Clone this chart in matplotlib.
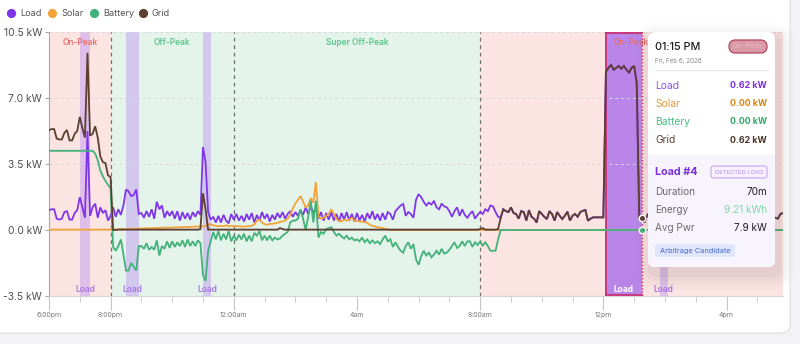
import numpy as np
import matplotlib
matplotlib.use("Agg")
import matplotlib.pyplot as plt
from matplotlib.patches import FancyBboxPatch, Rectangle
from matplotlib.lines import Line2D

plt.rcParams['font.family'] = ['Inter', 'DejaVu Sans']

# ---------------------------------------------------------------------------
# 5-minute power readings (kW), starting at 6:00pm, one row per hour
# ---------------------------------------------------------------------------
STEP_MIN = 5

load_kw = [
    1.05, 1.1, 1.1, 0.6, 0.55, 0.6, 0.95, 1.0, 0.55, 0.55, 0.9, 1.05,
    1.75, 1.2, 0.65, 5.25, 0.75, 1.2, 1.4, 0.65, 1.2, 0.9, 1.05, 0.5,
    0.75, 1.2, 0.7, 1.1, 0.8, 1.3, 2.15, 2.05, 1.8, 1.85, 2.15, 0.85,
    0.9, 0.65, 1.0, 0.7, 1.1, 0.6, 1.5, 1.1, 1.3, 0.65, 1.0, 0.75,
    1.0, 0.6, 1.0, 0.5, 0.95, 0.6, 0.9, 0.55, 0.95, 0.7, 1.0, 0.8,
    4.4, 3.6, 0.95, 0.55, 0.7, 0.4, 0.75, 0.4, 0.8, 0.5, 0.35, 0.85,
    0.55, 0.85, 0.5, 0.75, 0.45, 0.85, 0.55, 0.9, 0.4, 0.8, 0.5, 0.95,
    0.6, 0.85, 0.45, 0.8, 0.55, 0.9, 0.65, 0.95, 0.6, 0.85, 1.0, 0.7,
    0.95, 0.75, 1.05, 0.8, 1.2, 0.85, 1.25, 0.9, 1.2, 0.6, 0.95, 0.5,
    0.9, 0.55, 0.95, 0.5, 0.85, 0.45, 0.9, 0.55, 0.95, 0.5, 0.85, 0.45,
    0.9, 0.5, 0.8, 0.45, 0.9, 0.6, 1.0, 0.55, 0.85, 0.5, 0.9, 0.55,
    0.95, 0.85, 0.55, 1.0, 1.15, 1.3, 1.38, 0.75, 0.95, 0.85, 0.65, 1.6,
    1.9, 1.75, 1.5, 1.3, 1.45, 1.35, 1.55, 1.2, 1.1, 1.4, 1.25, 1.2,
    1.0, 0.7, 1.0, 1.2, 0.75, 1.1, 0.8, 0.65, 0.85, 1.0, 0.6, 0.8,
    0.95, 0.85, 1.1, 1.0, 1.3, 1.25, 0.95, 0.7, 0.65, 1.1, 1.0, 0.95,
    1.2, 0.9, 0.85, 0.6, 1.0, 0.95, 0.5, 1.05, 0.7, 0.6, 0.4, 1.0,
    0.85, 0.7, 0.58, 1.0, 0.85, 0.5, 0.95, 0.75, 0.58, 0.76, 0.97, 0.5,
    0.76, 0.85, 0.7, 0.95, 1.02, 1.06, 0.49, 0.6, 0.67, 0.67, 0.67, 0.67,
    0.67, 8.4, 8.6, 8.75, 8.5, 8.6, 8.7, 8.55, 8.7, 8.5, 8.35, 8.6,
    8.7, 7.8, 0.65, 0.62, 0.4, 0.75, 0.95, 0.6, 0.85, 0.5, 0.9, 0.7,
    1.0, 0.55, 0.8, 0.95, 0.6, 0.85, 0.45, 0.9, 0.7, 1.05, 0.6, 0.8,
    0.95, 0.5, 0.85, 0.7, 1.0, 0.55, 0.9, 0.65, 0.8, 1.0, 0.5, 0.85,
    0.7, 0.95, 0.6, 0.9, 0.55, 1.0, 0.75, 0.85, 0.5, 0.9, 0.65, 0.95,
    0.6, 0.85, 0.7, 1.0, 0.55, 0.9, 0.7, 0.65, 0.6, 0.85, 0.9,
]

solar_kw = [
    0.02, 0.02, 0.02, 0.02, 0.02, 0.02, 0.02, 0.02, 0.02, 0.02, 0.02, 0.02,
    0.02, 0.02, 0.02, 0.02, 0.02, 0.02, 0.02, 0.02, 0.02, 0.02, 0.02, 0.02,
    0.03, 0.03, 0.04, 0.04, 0.05, 0.04, 0.05, 0.06, 0.06, 0.07, 0.06, 0.07,
    0.08, 0.08, 0.09, 0.1, 0.09, 0.1, 0.11, 0.11, 0.12, 0.12, 0.13, 0.12,
    0.13, 0.14, 0.14, 0.15, 0.15, 0.16, 0.16, 0.17, 0.17, 0.18, 0.18, 0.19,
    0.19, 0.2, 0.3, 0.3, 0.25, 0.22, 0.2, 0.22, 0.2, 0.25, 0.2, 0.22,
    0.2, 0.2, 0.2, 0.18, 0.18, 0.2, 0.2, 0.22, 0.3, 0.5, 0.55, 0.4,
    0.3, 0.28, 0.32, 0.33, 0.35, 0.38, 0.42, 0.46, 0.5, 0.6, 0.8, 1.15,
    1.4, 1.6, 1.8, 1.5, 1.2, 1.3, 1.7, 1.45, 2.55, 0.7, 0.6, 0.65,
    0.75, 0.85, 1.1, 0.85, 0.6, 0.48, 0.46, 0.55, 0.5, 0.55, 0.65, 0.5,
    0.48, 0.46, 0.44, 0.42, 0.38, 0.28, 0.22, 0.18, 0.15, 0.12, 0.1, 0.06,
    0.03, 0.0, 0.0, 0.0, 0.0, 0.0, 0.0, 0.0, 0.0, 0.0, 0.0, 0.0,
    0.0, 0.0, 0.0, 0.0, 0.0, 0.0, 0.0, 0.0, 0.0, 0.0, 0.0, 0.0,
    0.0, 0.0, 0.0, 0.0, 0.0, 0.0, 0.0, 0.0, 0.0, 0.0, 0.0, 0.0,
    0.0, 0.0, 0.0, 0.0, 0.0, 0.0, 0.0, 0.0, 0.0, 0.0, 0.0, 0.0,
    0.0, 0.0, 0.0, 0.0, 0.0, 0.0, 0.0, 0.0, 0.0, 0.0, 0.0, 0.0,
    0.0, 0.0, 0.0, 0.0, 0.0, 0.0, 0.0, 0.0, 0.0, 0.0, 0.0, 0.0,
    0.0, 0.0, 0.0, 0.0, 0.0, 0.0, 0.0, 0.0, 0.0, 0.0, 0.0, 0.0,
    0.0, 0.0, 0.0, 0.0, 0.0, 0.0, 0.0, 0.0, 0.0, 0.0, 0.0, 0.0,
    0.0, 0.0, 0.0, 0.0, 0.0, 0.0, 0.0, 0.0, 0.0, 0.0, 0.0, 0.0,
    0.0, 0.0, 0.0, 0.0, 0.0, 0.0, 0.0, 0.0, 0.0, 0.0, 0.0, 0.0,
    0.0, 0.0, 0.0, 0.0, 0.0, 0.0, 0.0, 0.0, 0.0, 0.0, 0.0, 0.0,
    0.0, 0.0, 0.0, 0.0, 0.0, 0.0, 0.0, 0.0, 0.0, 0.0, 0.0, 0.0,
    0.0, 0.0, 0.0, 0.0, 0.0, 0.0, 0.0, 0.0, 0.0, 0.0, 0.0,
]

battery_kw = [
    4.2, 4.2, 4.2, 4.2, 4.2, 4.2, 4.2, 4.2, 4.2, 4.2, 4.2, 4.2,
    4.2, 4.2, 4.2, 4.2, 4.2, 4.2, 4.05, 3.7, 3.15, 2.85, 2.6, 2.4,
    2.2, -0.9, -1.1, -0.85, -0.5, -1.3, -2.15, -2.15, -1.75, -1.95, -2.15, -0.85,
    -0.85, -1.0, -0.7, -1.05, -0.9, -1.05, -0.55, -1.35, -0.85, -1.0, -0.6, -0.95,
    -0.6, -0.9, -0.65, -0.85, -0.55, -0.9, -0.5, -0.85, -0.6, -0.85, -0.55, -0.7,
    -2.4, -2.7, -1.1, -0.6, -0.1, -0.5, -0.05, -0.55, -0.2, -0.5, -0.05, -0.6,
    -0.3, -0.55, -0.25, -0.5, -0.2, -0.6, -0.3, -0.6, -0.15, -0.3, -0.05, -0.55,
    -0.3, -0.55, -0.3, -0.55, -0.4, -0.5, -0.45, -0.3, -0.2, -0.1, 0.4, 0.5,
    0.5, 0.6, 1.1, 0.6, 0.0, 0.7, 1.55, 0.4, 1.55, -0.4, -0.1, -0.2,
    0.05, 0.1, 0.15, -0.1, -0.3, -0.2, -0.35, -0.45, -0.3, -0.5, -0.4, -0.55,
    -0.5, -0.6, -0.4, -0.65, -0.5, -0.7, -0.55, -0.7, -0.6, -0.75, -0.5, -0.3,
    -0.6, -0.5, -0.9, -0.65, -0.9, -1.1, -1.2, -0.85, -0.65, -1.0, -0.75, -1.55,
    -1.85, -1.4, -1.1, -1.35, -1.2, -1.45, -1.3, -1.1, -1.3, -1.0, -1.25, -1.2,
    -1.05, -0.85, -0.65, -0.95, -0.85, -0.6, -0.85, -0.6, -0.6, -0.9, -0.65, -0.8,
    -0.6, -0.85, -0.65, -0.85, -1.1, -1.1, -1.1, -0.5, 0.0, 0.0, 0.0, 0.0,
    0.0, 0.0, 0.0, 0.0, 0.0, 0.0, 0.0, 0.0, 0.0, 0.0, 0.0, 0.0,
    0.0, 0.0, 0.0, 0.0, 0.0, 0.0, 0.0, 0.0, 0.0, 0.0, 0.0, 0.0,
    0.0, 0.0, 0.0, 0.0, 0.0, 0.0, 0.0, 0.0, 0.0, 0.0, 0.0, 0.0,
    0.0, 0.0, 0.0, 0.0, 0.0, 0.0, 0.0, 0.0, 0.0, 0.0, 0.0, 0.0,
    0.0, 0.0, 0.0, 0.0, 0.0, 0.0, 0.0, 0.0, 0.0, 0.0, 0.0, 0.0,
    0.0, 0.0, 0.0, 0.0, 0.0, 0.0, 0.0, 0.0, 0.0, 0.0, 0.0, 0.0,
    0.0, 0.0, 0.0, 0.0, 0.0, 0.0, 0.0, 0.0, 0.0, 0.0, 0.0, 0.0,
    0.0, 0.0, 0.0, 0.0, 0.0, 0.0, 0.0, 0.0, 0.0, 0.0, 0.0, 0.0,
    0.0, 0.0, 0.0, 0.0, 0.0, 0.0, 0.0, 0.0, 0.0, 0.0, 0.0,
]

grid_kw = [
    5.3, 5.35, 5.35, 4.85, 4.8, 4.8, 5.15, 5.3, 4.75, 4.75, 5.1, 5.25,
    6.0, 5.4, 4.9, 9.4, 5.0, 5.1, 5.5, 4.9, 3.9, 3.6, 3.55, 2.9,
    2.8, 0.0, 0.0, 0.02, 0.02, 0.02, 0.02, 0.02, 0.02, 0.02, 0.02, 0.02,
    0.02, 0.02, 0.02, 0.02, 0.02, 0.02, 0.02, 0.02, 0.02, 0.02, 0.02, 0.02,
    0.02, 0.02, 0.02, 0.02, 0.02, 0.02, 0.02, 0.02, 0.02, 0.02, 0.02, 0.05,
    1.95, 1.1, 0.02, 0.02, 0.02, 0.02, 0.02, 0.02, 0.02, 0.02, 0.02, 0.02,
    0.02, 0.02, 0.02, 0.02, 0.02, 0.02, 0.02, 0.02, 0.02, 0.02, 0.02, 0.02,
    0.02, 0.02, 0.02, 0.02, 0.02, 0.02, 0.1, 0.05, 0.02, 0.02, 0.02, 0.02,
    0.02, 0.02, 0.02, 0.02, 0.02, 0.02, 0.02, 0.02, 0.02, 0.02, 0.02, 0.02,
    0.02, 0.02, 0.02, 0.02, 0.02, 0.02, 0.02, 0.02, 0.02, 0.02, 0.02, 0.02,
    0.02, 0.02, 0.02, 0.02, 0.02, 0.02, 0.02, 0.02, 0.02, 0.02, 0.02, 0.02,
    0.02, 0.02, 0.02, 0.02, 0.02, 0.02, 0.02, 0.02, 0.02, 0.02, 0.02, 0.02,
    0.02, 0.02, 0.02, 0.02, 0.02, 0.02, 0.02, 0.02, 0.02, 0.02, 0.02, 0.02,
    0.02, 0.02, 0.02, 0.02, 0.02, 0.02, 0.02, 0.02, 0.02, 0.02, 0.02, 0.02,
    0.05, 0.1, 0.02, 0.02, 0.02, 0.02, 0.02, 0.05, 0.65, 1.1, 1.0, 0.95,
    1.2, 0.9, 0.85, 0.6, 1.0, 0.95, 0.5, 1.05, 0.7, 0.6, 0.4, 1.0,
    0.85, 0.7, 0.58, 1.0, 0.85, 0.5, 0.95, 0.75, 0.58, 0.76, 0.97, 0.5,
    0.76, 0.85, 0.7, 0.95, 1.02, 1.06, 0.49, 0.6, 0.67, 0.67, 0.67, 0.67,
    0.67, 8.4, 8.6, 8.75, 8.5, 8.6, 8.7, 8.55, 8.7, 8.5, 8.35, 8.6,
    8.7, 7.8, 0.65, 0.62, 0.4, 0.75, 0.95, 0.6, 0.85, 0.5, 0.9, 0.7,
    1.0, 0.55, 0.8, 0.95, 0.6, 0.85, 0.45, 0.9, 0.7, 1.05, 0.6, 0.8,
    0.95, 0.5, 0.85, 0.7, 1.0, 0.55, 0.9, 0.65, 0.8, 1.0, 0.5, 0.85,
    0.7, 0.95, 0.6, 0.9, 0.55, 1.0, 0.75, 0.85, 0.5, 0.9, 0.65, 0.95,
    0.6, 0.85, 0.7, 1.0, 0.55, 0.9, 0.7, 0.65, 0.6, 0.85, 0.9,
]

series_names = ["Load", "Solar", "Battery", "Grid"]
series_colors = ["#7f36ea", "#f2a33a", "#43b27a", "#5b3f31"]

# Tariff periods, hours after 6:00pm
period_names = ["On-Peak", "Off-Peak", "Super Off-Peak", "On-Peak"]
period_start = [0.0, 2.0, 6.0, 14.0]
period_end = [2.0, 6.0, 14.0, 23.8333]
period_kind = ["peak", "off", "off", "peak"]

# Detected load events, hours after 6:00pm
event_start = [1.0, 2.5, 5.0, 18.0833, 19.8333]
event_end = [1.3333, 2.9167, 5.25, 19.25, 20.0833]
selected_event = 3

# x-axis labels (hours after 6:00pm)
tick_hours = [0, 2, 6, 10, 14, 18, 22]
tick_labels = ["6:00pm", "8:00pm", "12:00am", "4am", "8:00am", "12pm", "4pm"]
y_ticks = [-3.5, 0.0, 3.5, 7.0, 10.5]

# Hovered sample (1:15 PM) and the selected load event summary
hover_index = 231
hover_time = "01:15 PM"
hover_date = "Fri, Feb 6, 2026"
hover_period = "On-Peak"
event_title = "Load #4"
event_duration = "70m"
event_energy = "9.21 kWh"
event_avg = "7.9 kW"
event_tag = "Arbitrage Candidate"

# ---------------------------------------------------------------------------
t = np.arange(len(load_kw)) * STEP_MIN / 60.0
series = [load_kw, solar_kw, battery_kw, grid_kw]

W, H = 800, 344
fig = plt.figure(figsize=(W / 100, H / 100), dpi=100)
fig.patch.set_facecolor("#f3f3f5")


def inch(px, py):
    return px / 100.0, (H - py) / 100.0


def ftext(px, py, s, **kw):
    kw.setdefault("zorder", 9)
    return fig.text(px / W, 1 - py / H, s, **kw)


def rbox(x0, y0, x1, y1, r, fc, ec="none", lw=0.0, z=6, alpha=1.0):
    ax0, ay1 = inch(x0, y1)
    p = FancyBboxPatch((ax0, ay1), (x1 - x0) / 100.0, (y1 - y0) / 100.0,
                       boxstyle=f"round,pad=0,rounding_size={r / 100.0}",
                       transform=fig.dpi_scale_trans, fc=fc, ec=ec, lw=lw,
                       zorder=z, alpha=alpha)
    fig.add_artist(p)
    return p


# card
rbox(-20, -20, 790, 333, 9, "white", ec="#e1e1e4", lw=0.9, z=-2)

ax = fig.add_axes([49 / W, 1 - 296 / H, (783 - 49) / W, (296 - 32) / H])
ax.patch.set_visible(False)
ax.set_xlim(0, t[-1])
ax.set_ylim(-3.5, 10.5)

# tariff backgrounds
bg = {"peak": "#fbe4e2", "off": "#e4f4eb"}
label_col = {"peak": "#e8716d", "off": "#5cc68e"}
for name, s, e, k in zip(period_names, period_start, period_end, period_kind):
    ax.axvspan(s, e, color=bg[k], lw=0, zorder=0.1)
    ax.text((s + e) / 2, 9.93, name, ha="center", va="center", fontsize=6.0,
            fontweight="semibold", color=label_col[k], zorder=2)
for s in period_start[1:]:
    ax.axvline(s, color="#6f6f6f", lw=0.9, ls=(0, (3, 3)), zorder=1.5)

# load event bands
for i, (s, e) in enumerate(zip(event_start, event_end)):
    if i == selected_event:
        ax.axvspan(s, e, color="#b985e8", lw=0, zorder=0.4)
        ax.plot([s, s], [-3.5, 10.5], color="#c92f72", lw=1.3, zorder=1.6)
        ax.plot([s, e], [10.47, 10.47], color="#c92f72", lw=1.3, zorder=1.6)
        ax.plot([s, e], [-3.47, -3.47], color="#c92f72", lw=1.3, zorder=1.6)
        ax.text((s + e) / 2, -3.17, "Load", ha="center", va="center",
                fontsize=6.0, fontweight="bold", color="white", zorder=2)
    else:
        ax.axvspan(s, e, color="#b787f4", alpha=0.4, lw=0, zorder=0.4)
        ax.text((s + e) / 2, -3.17, "Load", ha="center", va="center",
                fontsize=6.0, fontweight="semibold", color="#a676ea", zorder=2)

# horizontal grid
for yv in y_ticks[1:]:
    ax.axhline(yv, color="#d8d8d8", lw=0.7, ls=(0, (3, 3)), zorder=0.5)

# series
for vals, c in zip(series, series_colors):
    ax.plot(t, vals, color=c, lw=1.3, zorder=3, solid_joinstyle="miter")

# hover crosshair
th = t[hover_index]
ax.axvline(th, color="#d2306e", lw=0.9, ls=(0, (1.2, 1.5)), zorder=4)
for vals, c in zip(series, series_colors):
    ax.plot([th], [vals[hover_index]], "o", ms=4.6, mfc=c, mec="white",
            mew=1.0, zorder=5)

# axes styling
ax.set_yticks(y_ticks)
ax.set_yticklabels([f"{v:.1f} kW" for v in y_ticks])
ax.set_xticks(tick_hours)
ax.set_xticklabels(tick_labels)
ax.set_xticks(np.arange(0, 24, 1), minor=True)
ax.tick_params(axis="y", length=3, color="#a8a8a8", labelsize=7.4,
               labelcolor="#4d4d4d", pad=2)
ax.tick_params(axis="x", which="major", length=10, color="#c4c4c4",
               labelsize=5.0, labelcolor="#7a7a7a", pad=1.5)
ax.tick_params(axis="x", which="minor", length=4, color="#c4c4c4")
for side in ("top", "right"):
    ax.spines[side].set_visible(False)
ax.spines["left"].set_color("#a8a8a8")
ax.spines["bottom"].set_color("#d6d6d6")
ax.spines["left"].set_zorder(2.5)
ax.spines["bottom"].set_zorder(2.5)

# legend
legend_x = [11, 52, 94, 143]
for name, c, lx in zip(series_names, series_colors, legend_x):
    fig.add_artist(Line2D([lx / W], [1 - 13 / H], marker="o", ms=5.6,
                          color=c, lw=0, transform=fig.transFigure))
    ftext(lx + 9, 13, name, fontsize=6.6, color="#555555", va="center")

# tooltip shadow
for k, a in zip([16, 11, 7, 3], [0.025, 0.035, 0.045, 0.06]):
    rbox(648 - k + 3, 32 - k + 7, 775 + k + 3, 267 + k + 7, 6 + k,
         "#6d5560", z=6, alpha=a)
# tooltip body
rbox(648, 32, 775, 267, 7, "white", z=7)
rbox(648, 155, 775, 267, 7, "#f7f4fd", z=7.1)
rx, ry = inch(648, 165)
fig.add_artist(Rectangle((rx, ry), 1.27, 0.10, transform=fig.dpi_scale_trans,
                         fc="#f7f4fd", ec="none", zorder=7.2))
fig.add_artist(Line2D([655 / W, 768 / W], [1 - 70 / H, 1 - 70 / H],
                      color="#e6e6e6", lw=0.8, transform=fig.transFigure,
                      zorder=8))

ftext(655, 47, hover_time, fontsize=7.8, color="#1f1f1f", va="center",
      fontweight="medium")
ftext(655, 61, hover_date, fontsize=4.5, color="#8a8a8a", va="center")
rbox(729, 40, 767, 53, 6.5, "#d79aa6", ec="#b3455f", lw=0.9, z=8)
ftext(748, 46.5, hover_period, fontsize=5.2, color="#ebb3bd", va="center",
      ha="center")

label_cols = ["#8d52ec", "#e59a3e", "#4cbd83", "#5b4235"]
value_cols = ["#7a2fe4", "#de8412", "#33a86b", "#4a3428"]
for k, (name, vals) in enumerate(zip(series_names, series)):
    yy = 86 + 18 * k
    ftext(655, yy, name, fontsize=7.4, color=label_cols[k], va="center")
    ftext(767, yy, f"{vals[hover_index]:.2f} kW", fontsize=6.4,
          fontweight="bold", color=value_cols[k], va="center", ha="right")

ftext(655, 172, event_title, fontsize=7.8, fontweight="bold", color="#7a2fe0",
      va="center")
rbox(711, 166, 767, 178, 2.5, "#f7f0ff", ec="#c6a5f2", lw=0.8, z=8)
ftext(739, 172.2, "DETECTED LOAD", fontsize=4.2, color="#b48ae9", va="center",
      ha="center")
rows = [("Duration", event_duration, "#1f1f1f"),
        ("Energy", event_energy, "#7ed9a2"),
        ("Avg Pwr", event_avg, "#1f1f1f")]
for k, (lab, val, vc) in enumerate(rows):
    yy = 192 + 18 * k
    ftext(655, yy, lab, fontsize=7.2, color="#6b6b6b", va="center")
    ftext(767, yy, val, fontsize=7.2, color=vc, va="center", ha="right")
rbox(655, 244, 735, 257, 3, "#dfe6fb", z=8)
ftext(695, 250.5, event_tag, fontsize=5.3, color="#4a69d3", va="center",
      ha="center")

fig.savefig("out.png", dpi=100, facecolor=fig.get_facecolor())
